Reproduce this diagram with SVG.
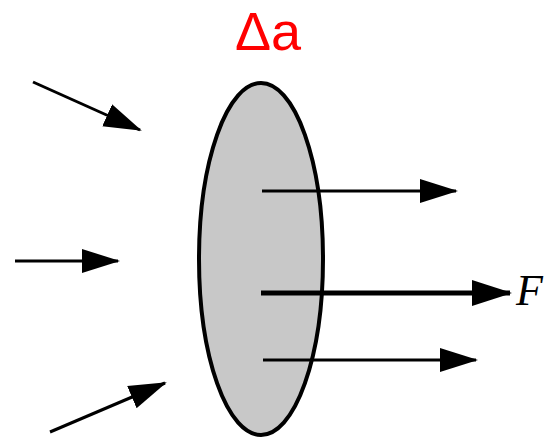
<svg xmlns="http://www.w3.org/2000/svg" width="545" height="438" viewBox="0 0 545 438">
<defs>
<style>
.ar{stroke:#000;stroke-width:3;fill:none;marker-end:url(#head)}
.ar.thick{stroke-width:5;marker-end:url(#headL)}
</style>
<marker id="head" markerUnits="userSpaceOnUse" orient="auto" markerWidth="40" markerHeight="30" refX="36" refY="12" viewBox="0 0 40 24">
<path d="M0,0 L38,12 L0,24 Z" fill="#000"/>
</marker>
<marker id="headL" markerUnits="userSpaceOnUse" orient="auto" markerWidth="42" markerHeight="30" refX="38" refY="13" viewBox="0 0 42 26">
<path d="M0,0 L40,13 L0,26 Z" fill="#000"/>
</marker>
</defs>
<rect width="545" height="438" fill="#fff"/>
<g id="surface">
<ellipse cx="261" cy="259" rx="62" ry="176" fill="#c8c8c8" stroke="#000" stroke-width="4"/>
</g>
<g id="label-da">
<text x="268" y="50" font-family="Liberation Sans, Arial, sans-serif" font-size="54" fill="#ff0000" text-anchor="middle">Δa</text>
</g>
<g id="label-F">
<text x="516" y="305" font-family="Liberation Serif, Times New Roman, serif" font-style="italic" font-size="44" fill="#000">F</text>
</g>
<g id="connectors">
<line class="ar" x1="33" y1="82" x2="140" y2="130"/>
<line class="ar" x1="15" y1="261" x2="118" y2="261"/>
<line class="ar" x1="50" y1="432" x2="165" y2="383"/>
<line class="ar" x1="262" y1="191" x2="456" y2="191"/>
<line class="ar thick" x1="261" y1="293" x2="510" y2="293"/>
<line class="ar" x1="263" y1="360" x2="476" y2="360"/>
</g>
</svg>
